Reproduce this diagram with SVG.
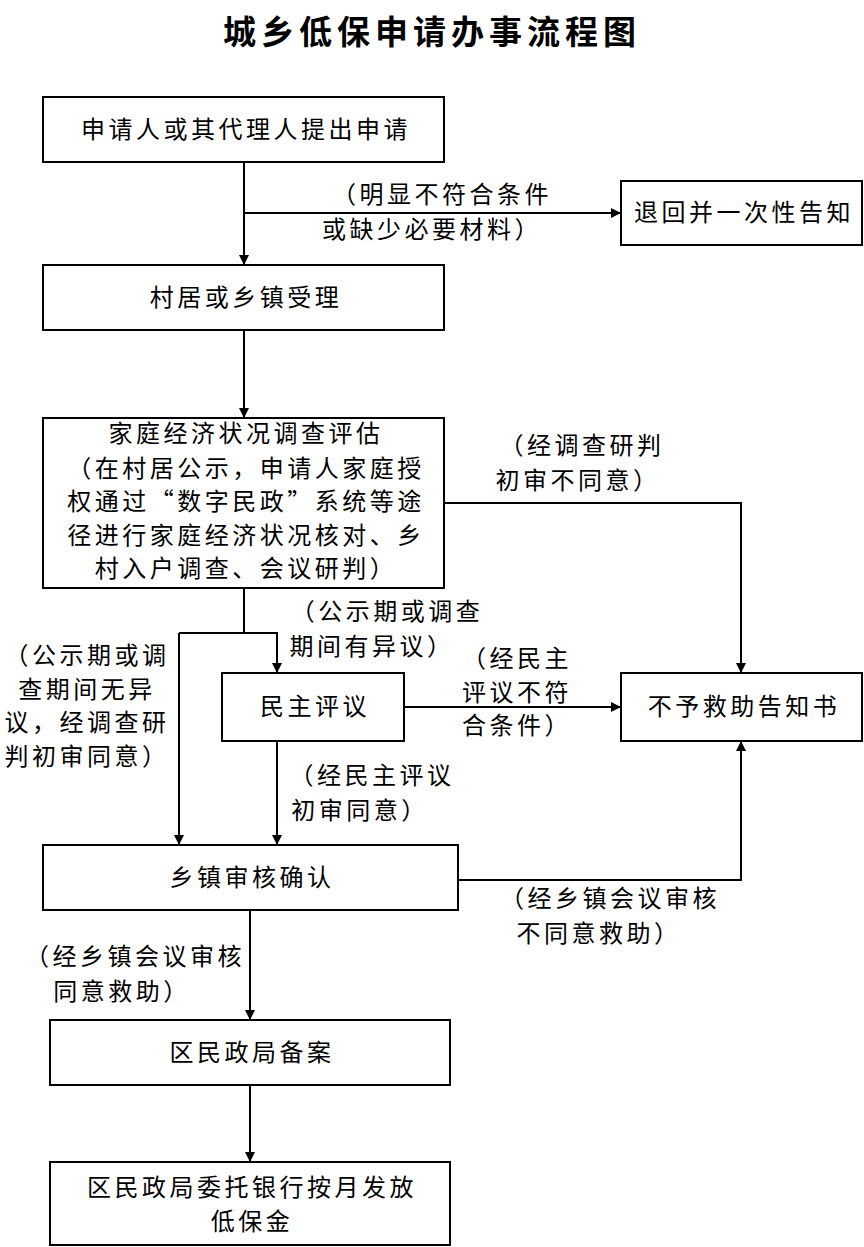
<svg xmlns="http://www.w3.org/2000/svg" width="864" height="1247" viewBox="0 0 864 1247">
<defs>
<marker id="ah" viewBox="0 0 10 10" refX="10" refY="5" markerWidth="10" markerHeight="10" markerUnits="userSpaceOnUse" orient="auto"><path d="M0,0 L10,5 L0,10 z" fill="#000"/></marker>
<style>
text{font-family:"Noto Sans CJK SC","Liberation Serif",serif;font-size:24px;letter-spacing:3.5px;fill:#000}
.c{text-anchor:middle}
rect{fill:#fff;stroke:#000;stroke-width:2}
.l{fill:none;stroke:#000;stroke-width:2}
</style>
</defs>
<rect x="0" y="0" width="864" height="1247" style="fill:#fff;stroke:none"/>
<text x="432" y="44" class="c" style="font-size:33px;letter-spacing:5px;font-weight:bold">城乡低保申请办事流程图</text>
<g id="connectors">
<path class="l" d="M244,162 V265" marker-end="url(#ah)"/>
<path class="l" d="M244,213 H621" marker-end="url(#ah)"/>
<path class="l" d="M244,330 V418" marker-end="url(#ah)"/>
<path class="l" d="M444,503 H741 V673" marker-end="url(#ah)"/>
<path class="l" d="M244,588 V633"/>
<path class="l" d="M179,633 H277 V673" marker-end="url(#ah)"/>
<path class="l" d="M179,633 V845" marker-end="url(#ah)"/>
<path class="l" d="M277,741 V845" marker-end="url(#ah)"/>
<path class="l" d="M404,707 H621" marker-end="url(#ah)"/>
<path class="l" d="M458,880 H741 V741" marker-end="url(#ah)"/>
<path class="l" d="M250,910 V1020" marker-end="url(#ah)"/>
<path class="l" d="M250,1085 V1162" marker-end="url(#ah)"/>
</g>
<g id="labels">
<text x="442" y="203" class="c">（明显不符合条件</text>
<text x="432" y="238" class="c">或缺少必要材料）</text>
<text x="582" y="454" class="c">（经调查研判</text>
<text x="578" y="489" class="c">初审不同意）</text>
<text x="387" y="620" class="c">（公示期或调查</text>
<text x="372" y="655" class="c">期间有异议）</text>
<text x="87" y="664" class="c">（公示期或调</text>
<text x="87" y="698" class="c">查期间无异</text>
<text x="87" y="731" class="c">议，经调查研</text>
<text x="87" y="765" class="c">判初审同意）</text>
<text x="517" y="667" class="c">（经民主</text>
<text x="517" y="701" class="c">评议不符</text>
<text x="517" y="734" class="c">合条件）</text>
<text x="372" y="784" class="c">（经民主评议</text>
<text x="360" y="819" class="c">初审同意）</text>
<text x="610" y="907" class="c">（经乡镇会议审核</text>
<text x="599" y="942" class="c">不同意救助）</text>
<text x="135" y="965" class="c">（经乡镇会议审核</text>
<text x="122" y="1000" class="c">同意救助）</text>
</g>
<g id="n1"><rect x="43" y="97" width="401" height="65"/><text x="246" y="138" class="c">申请人或其代理人提出申请</text></g>
<g id="n2"><rect x="621" y="181" width="241" height="64"/><text x="744" y="221" class="c">退回并一次性告知</text></g>
<g id="n3"><rect x="43" y="265" width="401" height="65"/><text x="246" y="306" class="c">村居或乡镇受理</text></g>
<g id="n4"><rect x="43" y="418" width="401" height="170"/>
<text x="246" y="442" class="c">家庭经济状况调查评估</text>
<text x="246" y="477" class="c">（在村居公示，申请人家庭授</text>
<text x="246" y="510" class="c">权通过“数字民政”系统等途</text>
<text x="246" y="544" class="c">径进行家庭经济状况核对、乡</text>
<text x="246" y="577" class="c">村入户调查、会议研判）</text></g>
<g id="n5"><rect x="222" y="673" width="182" height="68"/><text x="315" y="715" class="c">民主评议</text></g>
<g id="n6"><rect x="621" y="673" width="241" height="68"/><text x="744" y="715" class="c">不予救助告知书</text></g>
<g id="n7"><rect x="43" y="845" width="415" height="65"/><text x="252" y="886" class="c">乡镇审核确认</text></g>
<g id="n8"><rect x="50" y="1020" width="400" height="65"/><text x="252" y="1061" class="c">区民政局备案</text></g>
<g id="n9"><rect x="50" y="1162" width="400" height="83"/><text x="252" y="1196" class="c">区民政局委托银行按月发放</text><text x="252" y="1230" class="c">低保金</text></g>
</svg>
